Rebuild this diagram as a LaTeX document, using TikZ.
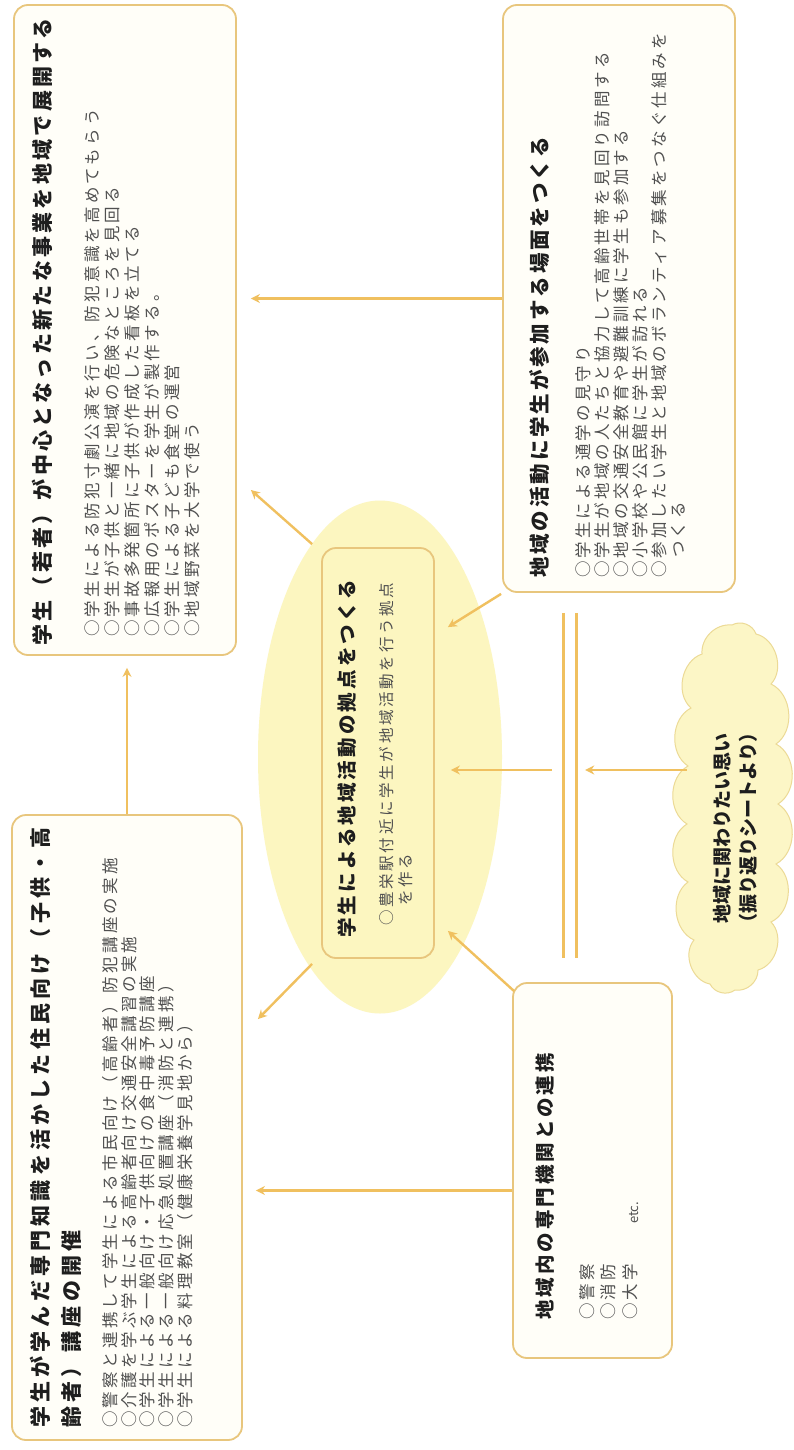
\documentclass[tikz,border=0pt]{standalone}
\usepackage{fontspec}
\newfontfamily\jp{Noto Sans CJK JP}
\usetikzlibrary{shapes.geometric,arrows.meta,calc}
\definecolor{bordc}{RGB}{232,198,125}
\definecolor{arrc}{RGB}{240,192,95}
\definecolor{ellc}{RGB}{252,246,192}
\definecolor{cloudc}{RGB}{252,246,198}
\definecolor{cloudb}{RGB}{236,218,150}
\definecolor{boxf}{RGB}{255,254,248}
\definecolor{ttc}{RGB}{30,30,30}
\definecolor{itc}{RGB}{80,80,80}
\begin{document}
\begin{tikzpicture}[x=1pt,y=-1pt,
 box/.style={draw=bordc, line width=1.8pt, rounded corners=14pt, fill=boxf, inner sep=0pt},
 arr/.style={draw=arrc, line width=2.4pt, -{Stealth[length=9pt,width=9pt]}},
 barline/.style={draw=arrc, line width=3pt},
 ttl/.style 2 args={rotate=90, anchor=west, inner sep=0pt, text=ttc, font=\jp\bfseries\addfontfeature{LetterSpace=#2}\fontsize{#1}{#1}\selectfont},
 itm/.style 2 args={rotate=90, anchor=west, inner sep=0pt, text=itc, font=\jp\addfontfeature{LetterSpace=#2}\fontsize{#1}{#1}\selectfont},
]
\useasboundingbox (0,0) rectangle (794,1450);
\fill[white] (0,0) rectangle (794,1450);

% shapes
\node[ellipse, fill=ellc, minimum width=244pt, minimum height=513pt, inner sep=0pt] (ell) at (380,757) {};
\node[box, minimum width=222pt, minimum height=650pt] (A) at (125,330) {};
\node[box, minimum width=230pt, minimum height=625pt] (B) at (127,1127.5) {};
\node[box, minimum width=232pt, minimum height=587pt] (C) at (619,298.5) {};
\node[box, minimum width=159pt, minimum height=375pt] (D) at (592.5,1170.5) {};
\node[box, fill=ellc, minimum width=112pt, minimum height=410pt] (E) at (378,753) {};
% cloud
\node[minimum width=91pt, minimum height=365pt, inner sep=0pt] (cl) at (732.5,807.5) {};
\draw[draw=cloudb, fill=cloudc, line width=1pt]
  (732,625) to[bend left=50] (756,634) to[bend left=60] (771,684) to[bend left=60] (776,744)
  to[bend left=60] (778,804) to[bend left=60] (776,864) to[bend left=60] (771,922)
  to[bend left=60] (758,970) to[bend left=50] (735,990) to[bend left=50] (710,984)
  to[bend left=60] (694,940) to[bend left=60] (688,882) to[bend left=60] (687,824)
  to[bend left=60] (688,766) to[bend left=60] (691,708) to[bend left=60] (702,654)
  to[bend left=50] cycle;
\node[minimum width=12pt, minimum height=345pt, inner sep=0pt] (bar) at (570,785.5) {};
\draw[barline] (bar.north west) -- (bar.south west);
\draw[barline] (bar.north east) -- (bar.south east);

% connectors
\coordinate (hy) at (0,770);
\draw[arr] (B.north) -- ($(B.north |- A.south)+(0,12)$);
\draw[arr] (C.west) -- ($(C.west -| A.east)+(14,0)$);
\coordinate (d1) at ($(D.west)+(0,20)$);
\draw[arr] (d1) -- ($(d1 -| B.east)+(13,0)$);
\draw[arr] ($(bar.west |- hy)+(-12,0)$) -- ($(E.east |- hy)+(16,0)$);
\draw[arr] (cl.west |- hy) -- ($(bar.east |- hy)+(9,0)$);
\coordinate (eA) at ($(E.north west)+(-9,-3)$);
\coordinate (tA) at ($(A.east)+(14,160)$);
\draw[arr] (eA) -- (tA);
\coordinate (cE) at ($(C.south west)+(-1,1)$);
\coordinate (tE1) at ($(E.north east)+(13,80)$);
\draw[arr] (cE) -- (tE1);
\coordinate (eB) at ($(E.south west)+(-9,5)$);
\coordinate (tB) at ($(B.north east)+(15,205)$);
\draw[arr] (eB) -- (tB);
\coordinate (dE) at ($(D.north west)+(2,9)$);
\coordinate (tE2) at ($(E.south east)+(13,-28)$);
\draw[arr] (dE) -- (tE2);

% texts A
\node[ttl={21}{15.7}] (At) at (42,646) {学生（若者）が中心となった新たな事業を地域で展開する};
\node[itm={16.5}{19.4}] (A1) at (92,637) {○学生による防犯寸劇公演を行い、防犯意識を高めてもらう};
\node[itm={16.5}{19.4}] (A2) at (112,637) {○学生が子供と一緒に地域の危険なところを見回る};
\node[itm={16.5}{19.4}] (A3) at (132,637) {○事故多発箇所に子供が作成した看板を立てる};
\node[itm={16.5}{19.4}] (A4) at (152,637) {○広報用のポスターを学生が製作する。};
\node[itm={16.5}{19.4}] (A5) at (172,637) {○学生による子ども食堂の運営};
\node[itm={16.5}{19.4}] (A6) at (192,637) {○地域野菜を大学で使う};

% texts B
\node[ttl={21}{20}] (Bt1) at (40,1428) {学生が学んだ専門知識を活かした住民向け（子供・高};
\node[ttl={21}{20}] (Bt2) at (72,1428) {齢者）講座の開催};
\node[itm={16.5}{20}] (B1) at (110,1428) {○警察と連携して学生による市民向け（高齢者）防犯講座の実施};
\node[itm={16.5}{20}] (B2) at (129,1428) {○介護を学ぶ学生による高齢者向け交通安全講習の実施};
\node[itm={16.5}{20}] (B3) at (147,1428) {○学生による一般向け・子供向けの食中毒予防講座};
\node[itm={16.5}{20}] (B4) at (166,1428) {○学生による一般向け応急処置講座（消防と連携）};
\node[itm={16.5}{20}] (B5) at (185,1428) {○学生による料理教室（健康栄養学見地から）};

% texts C
\node[ttl={20.5}{14}] (Ct) at (540,578) {地域の活動に学生が参加する場面をつくる};
\node[itm={16.5}{18.8}] (C1) at (583,578) {○学生による通学の見守り};
\node[itm={16.5}{18.8}] (C2) at (602,578) {○学生が地域の人たちと協力して高齢世帯を見回り訪問する};
\node[itm={16.5}{18.8}] (C3) at (621,578) {○地域の交通安全教育や避難訓練に学生も参加する};
\node[itm={16.5}{18.8}] (C4) at (640,578) {○小学校や公民館に学生が訪れる};
\node[itm={16.5}{18.8}] (C5) at (659,578) {○参加したい学生と地域のボランティア募集をつなぐ仕組みを};
\node[itm={16.5}{18.8}] (C6) at (678,558) {つくる};

% texts E
\node[ttl={19.5}{16}] (Et) at (347,938) {学生による地域活動の拠点をつくる};
\node[itm={15.5}{17.4}] (E1) at (387,926) {○豊栄駅付近に学生が地域活動を行う拠点};
\node[itm={15.5}{17.4}] (E2) at (406,906) {を作る};

% texts D
\node[ttl={19.5}{15.4}] (Dt) at (545,1320) {地域内の専門機関との連携};
\node[itm={16.5}{19}] (D1) at (587,1320) {○警察};
\node[itm={16.5}{19}] (D2) at (608,1320) {○消防};
\node[itm={16.5}{19}] (D3) at (630,1320) {○大学};
\node[rotate=90, anchor=west, inner sep=0pt, text=itc, font=\jp\fontsize{13}{13}\selectfont] (Detc) at (634,1224) {etc.};

% cloud text
\node[rotate=90, align=center, inner sep=0pt, text=ttc, font=\jp\bfseries\fontsize{19}{26}\selectfont] (clt) at (735,828) {地域に関わりたい思い\\（振り返りシートより）};
\end{tikzpicture}
\end{document}
